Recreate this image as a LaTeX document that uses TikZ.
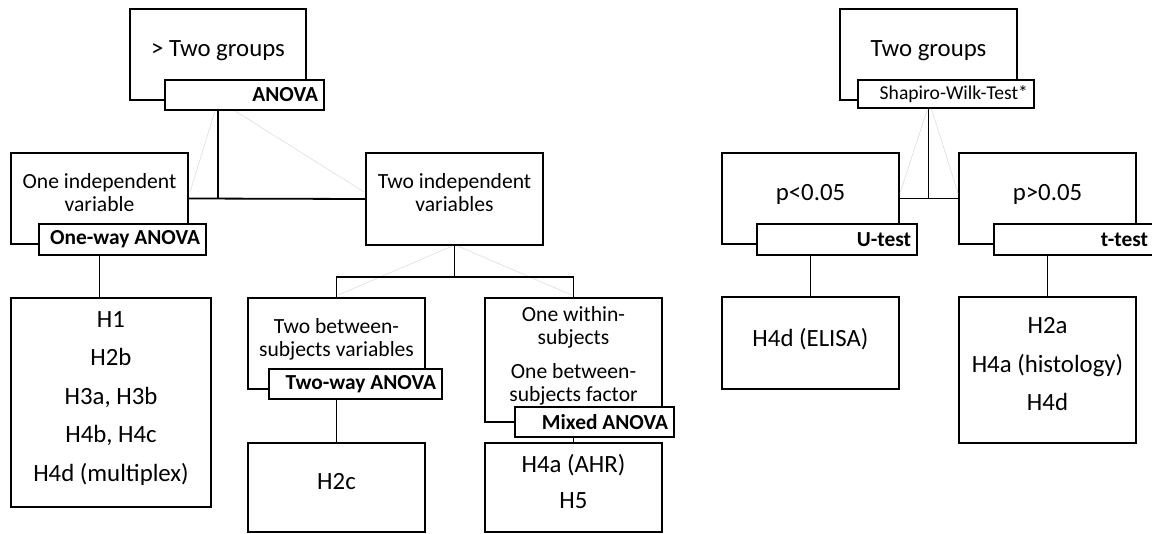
\documentclass[tikz,border=0pt]{standalone}
\usepackage{fontspec}
\setmainfont{Carlito}
\begin{document}
\begin{tikzpicture}[x=0.5pt,y=-0.5pt,line width=0.9pt,
                    box/.style={draw,align=center,inner sep=0pt,font=\fontsize{12.4}{19.25}\selectfont},
                    small/.style={font=\fontsize{10.8}{11.5}\selectfont},
                    tag/.style={draw,fill=white,align=flush right,inner xsep=3pt,inner ysep=0pt,minimum height=15pt,font=\fontsize{10.7}{12}\selectfont\bfseries},
                    ghost/.style={line width=0.25pt,draw=gray!30}
                   ]

    \useasboundingbox (0,0) rectangle (1152,534);

    % more than two groups
    \node[box,minimum width=88pt,minimum height=45.5pt](gt) at (218,54.5) {> Two groups\\[-13.25pt]};
    \node[tag,text width=73.5pt](anova) at (244.5,95) {ANOVA};
    \node[box,small,minimum width=88.5pt,minimum height=45.5pt](one) at (99.5,198.5) {One independent\\variable\\[-5.5pt]};
    \node[tag,text width=77.5pt,minimum height=15.5pt](oneway) at (122.5,239.5) {One-way ANOVA};
    \node[box,minimum width=100pt,minimum height=104.5pt](hl) at (111,402.5) {H1\\H2b\\H3a, H3b\\H4b, H4c\\H4d (multiplex)\\[-13.25pt]};
    \node[box,small,minimum width=88.5pt,minimum height=46pt](two) at (454.5,199) {Two independent\\variables\\[-5.5pt]};
    \node[box,small,minimum width=88.5pt,minimum height=45.5pt](twobetw) at (336.5,343.5) {Two between-\\subjects variables\\[-5.5pt]};
    \node[tag,text width=80.5pt](twoway) at (355.5,384) {Two-way ANOVA};
    \node[box,minimum width=88.5pt,minimum height=44.5pt](hc) at (336.5,487.5) {H2c\\[-13.25pt]};
    \node[box,small,minimum width=88.5pt,minimum height=62pt](within) at (573.5,360) {One within-\\subjects\\[5.5pt]One between-\\subjects factor\\[-5.5pt]};
    \node[tag,text width=73.5pt](mixed) at (594.5,422) {Mixed ANOVA};
    \node[box,minimum width=88.5pt,minimum height=44.5pt](ha) at (573.5,487.5) {H4a (AHR)\\[-1.25pt]H5\\[-13.25pt]};

    % two groups
    \node[box,minimum width=88.5pt,minimum height=45.5pt](tg) at (928.5,54.5) {Two groups\\[-13.25pt]};
    \node[tag,font=\fontsize{9.8}{11}\selectfont,text width=82pt,minimum height=14pt](sw) at (946,94) {Shapiro-Wilk-Test*};
    \node[box,minimum width=88.5pt,minimum height=45.5pt](plow) at (810.5,198.5) {p<0.05\\[-13.25pt]};
    \node[tag,text width=74pt,minimum height=15.5pt](utest) at (837,239.5) {U-test};
    \node[box,minimum width=88.5pt,minimum height=45.5pt](phigh) at (1047.5,198.5) {p>0.05\\[-13.25pt]};
    \node[tag,text width=74pt,minimum height=15.5pt](ttest) at (1074,239.5) {t-test};
    \node[box,minimum width=88.5pt,minimum height=46pt](hel) at (810.5,343) {H4d (ELISA)\\[-13.25pt]};
    \node[box,minimum width=88.5pt,minimum height=73pt](hh) at (1047.5,370) {H2a\\H4a (histology)\\H4d\\[-13.25pt]};

    \draw[ghost] ([shift={(-3,0)}]gt |- anova.south) -- ([shift={(1,-6)}]one.east)
                 ([shift={(17,0)}]gt |- anova.south) -- ([shift={(-1,-7)}]two.west)
                 ([shift={(-2,0)}]two.south) -- ([shift={(1.5,-2)}]twobetw.north)
                 ([shift={(3,0)}]two.south) -- ([shift={(-1.5,-2)}]within.north)
                 ([shift={(-1,0)}]tg |- sw.south) -- ([shift={(0,-5)}]plow.east)
                 ([shift={(3,0)}]tg |- sw.south) -- ([shift={(0,-5)}]phigh.west);

    \draw (gt |- anova.south) edge (gt |- one.east)
          (one.east) edge (two.west)
          (one |- oneway.south) edge (one |- hl.north)
          (twobetw |- twoway.south) edge (hc.north)
          (within |- mixed.south) edge (ha.north);
    \draw (two.south) -- ++(0,31) coordinate (fk);
    \draw (twobetw.north) |- (fk) -| (within.north);

    \draw (tg |- sw.south) edge (tg |- plow.east)
          (plow.east) edge (phigh.west)
          (plow |- utest.south) edge (hel.north)
          (phigh |- ttest.south) edge (hh.north);

\end{tikzpicture}
\end{document}
